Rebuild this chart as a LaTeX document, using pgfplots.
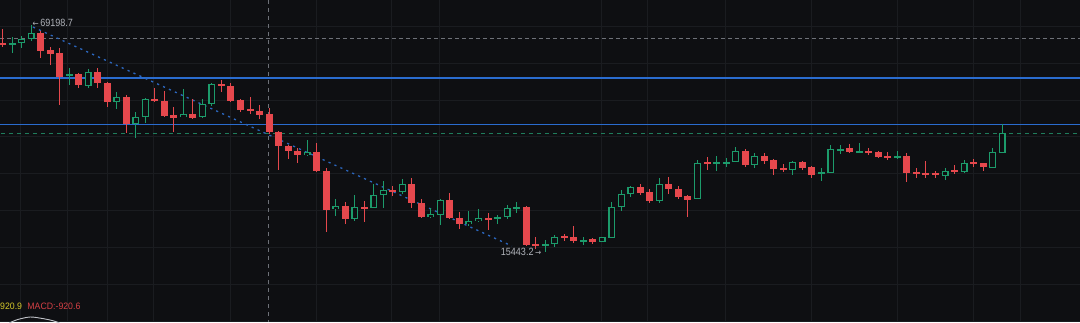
\documentclass[border=0pt]{standalone}
\usepackage{pgfplots}
\pgfplotsset{compat=1.18}
\usepackage{pgfplotstable}
\usepackage{fontspec}
\setmainfont{Liberation Sans}
\newfontfamily\arrowfont{DejaVu Sans}
\definecolor{bg}{HTML}{0E0F12}
\definecolor{gridc}{HTML}{1A1C20}
\definecolor{cred}{HTML}{E5484D}
\definecolor{cgreen}{HTML}{1C9B6B}
\definecolor{cblue}{HTML}{2A6CCF}
\definecolor{dgray}{HTML}{6E7178}
\definecolor{dgreen}{HTML}{1F7D5C}
\definecolor{tblue}{HTML}{2C68C0}
\definecolor{lgray}{HTML}{B0B3BA}
\definecolor{cyellow}{HTML}{D6C92A}
\definecolor{mred}{HTML}{D64045}

\pgfplotstableread{
i o h l c
0 43 29 47 45
4 33 31 58 51
5 50 47 65 54
6 53 48 105 77
8 74 73 88 85
10 72 68 88 83
11 83 82 107 102
13 97 95 133 124
16 99 88 102 101
17 101 91 117 116
18 115 107 132 118
20 114 99 119 118
23 84 80 92 86
24 86 83 102 101
25 100 99 112 110
26 109 97 114 111
27 111 105 119 115
28 114 108 134 132
29 132 131 170 146
30 146 145 159 151
31 151 148 163 155
33 152 143 172 171
34 171 168 232 210
36 206 202 224 219
38 207 201 222 209
41 190 186 196 191
43 184 178 208 203
44 203 199 218 217
47 200 193 219 218
48 218 212 229 224
51 218 213 230 220
55 207 206 246 245
56 244 237 249 245
59 236 234 241 238
60 237 226 243 241
62 239 238 244 242
67 187 184 195 193
68 192 189 203 201
70 184 177 194 189
71 189 186 199 197
72 196 195 217 200
74 162 157 170 163
78 151 149 167 165
80 156 153 164 161
81 160 159 175 169
82 168 164 172 170
84 162 161 170 168
85 167 166 178 175
89 148 144 153 152
91 151 148 155 152
92 152 151 158 157
93 156 152 160 157
95 156 153 182 173
96 172 168 178 174
97 173 161 178 175
98 173 171 178 175
100 170 165 174 172
102 162 159 167 164
103 163 163 171 167
}\redtab

\pgfplotstableread{
i o h l c
1 45 37 53 43
2 43 36 48 39
3 39 25 41 33
7 76 68 85 74
9 86 69 88 72
12 102 92 109 97
14 124 112 138 117
15 117 98 123 99
19 117 89 117 114
21 117 99 118 104
22 104 83 106 84
32 155 140 156 152
35 209 199 216 206
37 219 195 221 207
39 208 184 208 195
40 195 181 208 190
42 192 179 194 184
45 217 208 218 214
46 215 199 225 200
49 224 211 226 221
50 221 209 222 218
52 219 215 224 217
53 217 205 219 208
54 209 202 213 207
57 245 240 252 244
58 244 235 247 237
61 241 237 245 240
63 242 237 242 237
64 238 202 238 207
65 207 190 211 194
66 194 186 197 187
69 201 178 203 184
73 199 160 199 163
75 163 156 171 162
76 163 158 167 162
77 162 147 162 151
79 165 153 168 156
83 170 161 175 162
86 174 168 181 172
87 173 145 173 149
88 151 145 154 149
90 152 143 153 151
94 157 151 159 156
99 176 168 180 171
101 172 160 173 163
104 168 148 168 152
105 153 124 153 133
}\greentab

\begin{document}
\begin{tikzpicture}
\begin{axis}[
  scale only axis, width=1080pt, height=322pt,
  xmin=-0.2626, xmax=113.18, ymin=0, ymax=322, y dir=reverse,
  axis line style={draw=none},
  axis background/.style={fill=bg},
  xtick={1.84,6.78,10.98,15.81,23.9,32.93,40.91,45.85,62.97,67.8,75.89,84.93,93.96,101.94,106.88},
  ytick={26,63,100,136.5,173,210,247,284,321},
  xticklabels={}, yticklabels={},
  tick label style={inner sep=0pt, outer sep=0pt},
  major tick length=0pt,
  grid=major, grid style={draw=gridc, line width=1pt},
  clip=true,
]
% reference lines
\addplot[draw=dgray, line width=1pt, dash pattern=on 4pt off 3pt, forget plot] coordinates {(-1,38) (114,38)};
\addplot[draw=dgreen, line width=1pt, dash pattern=on 4pt off 4pt, forget plot] coordinates {(-1,133) (114,133)};
\addplot[draw=cblue, line width=1.3pt, forget plot] coordinates {(-1,78) (114,78)};
\addplot[draw=cblue, line width=1.3pt, forget plot] coordinates {(-1,124.5) (114,124.5)};
\addplot[draw=dgray, line width=1pt, dash pattern=on 4pt off 4pt, forget plot] coordinates {(27.89,0) (27.89,322)};
% trend line
\addplot[draw=tblue, line width=1.3pt, dash pattern=on 2.2pt off 4.3pt, forget plot] coordinates {(3.2,27) (53.5,246)};
% MACD curve
\addplot[draw=lgray!80, line width=0.9pt, smooth, forget plot] coordinates {(0.7,323) (1.6,319.5) (2.9,317) (4.2,318.5) (5.3,320.7) (6.0,323)};

% red wicks
\addplot[draw=none, forget plot, error bars/.cd, y dir=both, y explicit, error mark=none,
  error bar style={draw=cred, line width=1pt, solid}]
  table[x=i, y expr={(\thisrow{h}+\thisrow{l})/2}, y error expr={(\thisrow{l}-\thisrow{h})/2}] {\redtab};
% red bodies
\addplot[draw=none, forget plot, error bars/.cd, y dir=both, y explicit, error mark=none,
  error bar style={draw=cred, line width=7pt, solid}]
  table[x=i, y expr={(\thisrow{o}+\thisrow{c})/2}, y error expr={max((\thisrow{c}-\thisrow{o})/2,0.75)}] {\redtab};
% green wicks
\addplot[draw=none, forget plot, error bars/.cd, y dir=both, y explicit, error mark=none,
  error bar style={draw=cgreen, line width=1pt, solid}]
  table[x=i, y expr={(\thisrow{h}+\thisrow{l})/2}, y error expr={(\thisrow{l}-\thisrow{h})/2}] {\greentab};
% green bodies (outline)
\addplot[draw=none, forget plot, error bars/.cd, y dir=both, y explicit, error mark=none,
  error bar style={draw=cgreen, line width=7pt, solid}]
  table[x=i, y expr={(\thisrow{o}+\thisrow{c})/2}, y error expr={max((\thisrow{o}-\thisrow{c})/2,0.75)}] {\greentab};
% green bodies (hollow inside)
\addplot[draw=none, forget plot, error bars/.cd, y dir=both, y explicit, error mark=none,
  error bar style={draw=bg, line width=4.4pt, solid}]
  table[x=i, y expr={(\thisrow{o}+\thisrow{c})/2}, y error expr={max((\thisrow{o}-\thisrow{c})/2-1.3,0)}] {\greentab};

% labels
\node[anchor=west, inner sep=0pt, xscale=0.86, text=lgray, font=\fontsize{10.5}{11}\selectfont] at (axis cs:3.15,23) {{\arrowfont\fontsize{8.5}{9}\selectfont ←}\,69198.7};
\node[anchor=east, inner sep=0pt, xscale=0.86, text=lgray, font=\fontsize{10.5}{11}\selectfont] at (axis cs:56.6,252) {15443.2\,{\arrowfont\fontsize{8.5}{9}\selectfont →}};
\node[anchor=west, inner sep=0pt, xscale=0.94, text=cyellow, font=\fontsize{9.3}{10}\selectfont] at (axis cs:-0.2626,306.5) {920.9};
\node[anchor=west, inner sep=0pt, xscale=0.94, text=mred, font=\fontsize{9.3}{10}\selectfont] at (axis cs:2.6,306.5) {MACD:-920.6};
\end{axis}
\pgfresetboundingbox
\path (current axis.south west) rectangle (current axis.north east);
\end{tikzpicture}
\end{document}
